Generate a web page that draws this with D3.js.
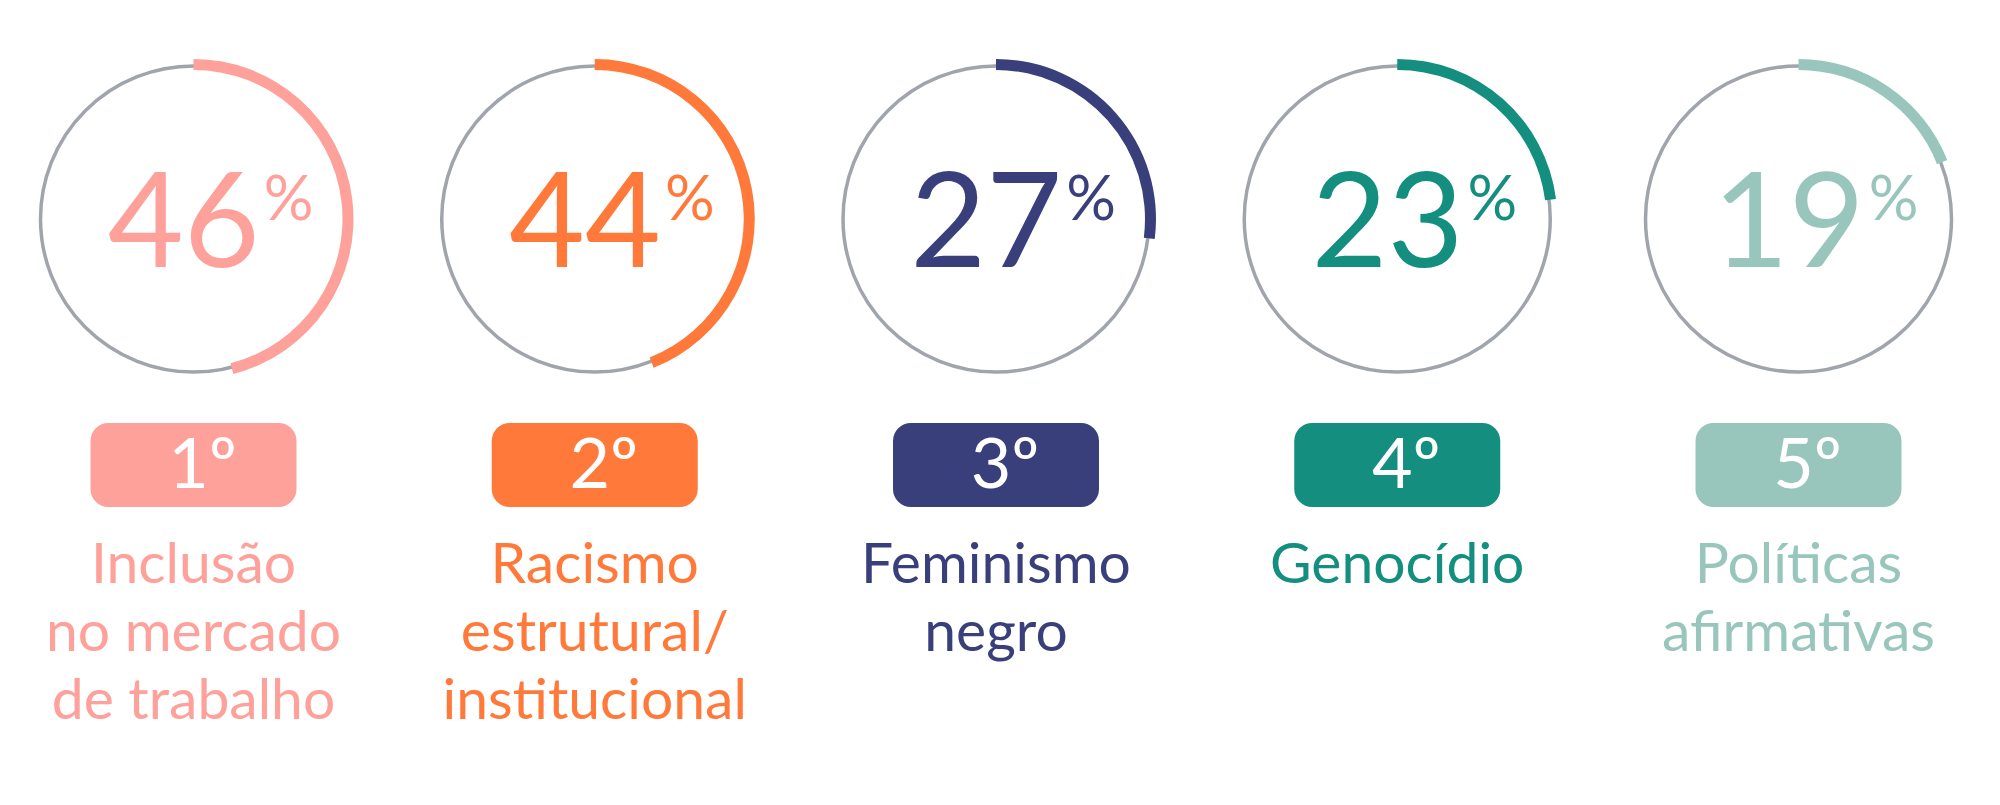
<!DOCTYPE html>
<html>
<head>
<meta charset="utf-8">
<script src="https://cdn.jsdelivr.net/npm/d3@7"></script>
<style>
  html, body { margin: 0; padding: 0; background: #fff; }
  svg text { font-family: Lato, "Noto Sans", sans-serif; }
</style>
</head>
<body>
<svg id="chart" width="2000" height="805"></svg>
<script>
// data
const categories = ['Inclusão no mercado de trabalho', 'Racismo estrutural/institucional', 'Feminismo negro', 'Genocídio', 'Políticas afirmativas'];
const labelLines = [
  ['Inclusão', 'no mercado', 'de trabalho'],
  ['Racismo', 'estrutural/', 'institucional'],
  ['Feminismo', 'negro'],
  ['Genocídio'],
  ['Políticas', 'afirmativas']
];
const values = [46, 44, 27, 23, 19];
const ranks = ['1º', '2º', '3º', '4º', '5º'];
const colors = ['#fda19a', '#ff7a3a', '#393f7a', '#138e7f', '#98c5bc'];

const W = 2000, H = 805;
const cy = 219, r = 153;

const svg = d3.select('#chart');

const x = d3.scalePoint().domain(categories).range([193.5, 1798.5]);
const pct = d3.scaleLinear().domain([0, 100]).range([0, 2 * Math.PI]);

const arc = d3.arc()
  .innerRadius(r - 4)
  .outerRadius(r + 7)
  .startAngle(0)
  .endAngle(d => pct(d));

const items = categories.map((c, i) => ({cat: c, lines: labelLines[i], value: values[i], rank: ranks[i], color: colors[i]}));

const g = svg.selectAll('g.item')
  .data(items)
  .join('g')
  .attr('class', 'item')
  .attr('transform', d => 'translate(' + x(d.cat) + ',0)');

// grey ring
g.append('circle')
  .attr('cx', 0).attr('cy', cy).attr('r', r)
  .attr('fill', 'none')
  .attr('stroke', '#a0a5ac')
  .attr('stroke-width', 3.5);

// coloured progress arc
g.append('path')
  .attr('transform', 'translate(0,' + cy + ')')
  .attr('d', d => arc(d.value))
  .attr('fill', d => d.color);

// big percentage
const num = g.append('text')
  .attr('x', 17).attr('y', 267)
  .attr('text-anchor', 'middle')
  .attr('fill', d => d.color);
num.append('tspan')
  .attr('font-size', 131)
  .text(d => d.value);
num.append('tspan')
  .attr('font-size', 62)
  .attr('dx', 4)
  .attr('dy', -47)
  .text('%');

// rank badge
g.append('rect')
  .attr('x', -103).attr('y', 423)
  .attr('width', 206).attr('height', 84)
  .attr('rx', 18).attr('ry', 18)
  .attr('fill', d => d.color);
g.append('text')
  .attr('x', 9).attr('y', 488)
  .attr('text-anchor', 'middle')
  .attr('font-size', 70)
  .attr('fill', '#fff')
  .text(d => d.rank);

// category label
g.append('text')
  .attr('text-anchor', 'middle')
  .attr('font-size', 57)
  .attr('fill', d => d.color)
  .selectAll('tspan')
  .data(d => d.lines)
  .join('tspan')
  .attr('x', 0)
  .attr('y', (d, i) => 583 + i * 68)
  .text(d => d);
</script>
</body>
</html>
